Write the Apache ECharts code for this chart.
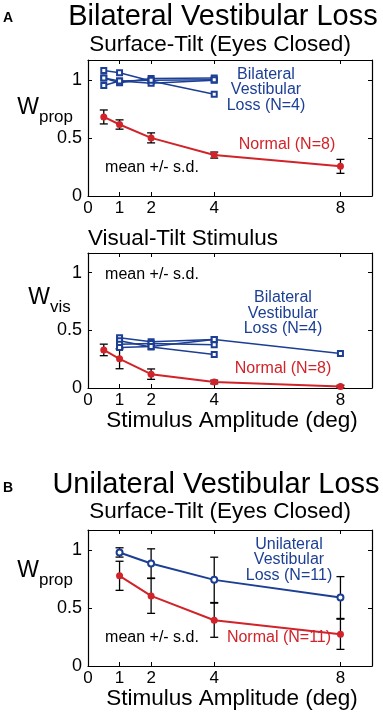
<!DOCTYPE html>
<html>
<head>
<meta charset="utf-8">
<script src="https://cdn.jsdelivr.net/npm/echarts@6/dist/echarts.min.js"></script>
<style>
  html, body { margin: 0; padding: 0; background: #fff; }
  #chart { width: 383px; height: 713px; }
</style>
</head>
<body>
<div id="chart"></div>
<script>
// axis ticks
const xTicks = [0, 1, 2, 4, 8];
const yTicks = [0, 0.5, 1];

// A: surface-tilt, eyes closed
const ampA = [0.5, 1, 2, 4, 8];
const normalPropA = [0.68, 0.615, 0.5, 0.352, 0.255];
const normalPropSdA = [0.06, 0.04, 0.043, 0.026, 0.06];
const bvlAmpA = [0.5, 1, 2, 4];
const bvlPropA = [
  [1.08, 1.06, 0.99, 0.875],
  [1.015, 0.975, 1.01, 1.015],
  [0.95, 0.99, 0.97, 0.995],
  [1.015, 0.99, 0.995, 1.0],
];

// A: visual-tilt stimulus
const normalVisA = [0.33, 0.253, 0.12, 0.052, 0.014];
const normalVisSdA = [0.05, 0.086, 0.045, 0.016, 0.01];
const bvlVisAmp = [
  [1, 2, 4, 8],
  [1, 2, 4],
  [1, 2, 4],
  [1, 2, 4],
];
const bvlVisA = [
  [0.435, 0.4, 0.42, 0.3],
  [0.41, 0.355, 0.29],
  [0.38, 0.385, 0.375],
  [0.35, 0.36, 0.42],
];

// B: surface-tilt, unilateral loss
const ampB = [1, 2, 4, 8];
const normalPropB = [0.776, 0.603, 0.394, 0.273];
const normalPropSdB = [0.125, 0.15, 0.147, 0.13];
const uvlPropB = [0.977, 0.882, 0.741, 0.589];
const uvlPropSdB = [0.04, 0.126, 0.195, 0.18];

const BLUE = "#1c3f94";
const RED = "#d1232a";
const FONT = "'Liberation Sans', Arial, Helvetica, sans-serif";

const grids = [
  { left: 88, top: 60, width: 284, height: 136 },
  { left: 88, top: 253, width: 284, height: 135 },
  { left: 88, top: 530, width: 284, height: 136 },
];

const xAxes = [];
const yAxes = [];
grids.forEach((g, i) => {
  const tick = { show: true, inside: true, length: 4, lineStyle: { color: "#000", width: 1 } };
  const line = { show: true, lineStyle: { color: "#000", width: 1.2 } };
  xAxes.push({
    gridIndex: i, type: "value", min: 0, max: 9, position: "bottom",
    axisLine: { ...line, onZero: false },
    axisTick: { ...tick, customValues: xTicks },
    axisLabel: { customValues: xTicks, color: "#000", fontSize: 17, fontFamily: FONT, margin: 4 },
    splitLine: { show: false },
  });
  xAxes.push({
    gridIndex: i, type: "value", min: 0, max: 9, position: "top",
    axisLine: { ...line, onZero: false },
    axisTick: { ...tick, customValues: xTicks },
    axisLabel: { show: false },
    splitLine: { show: false },
  });
  yAxes.push({
    gridIndex: i, type: "value", min: 0, max: 1.17, position: "left",
    axisLine: { ...line, onZero: false },
    axisTick: { ...tick, customValues: yTicks },
    axisLabel: {
      customValues: yTicks, color: "#000", fontSize: 18, fontFamily: FONT, margin: 6,
      formatter: (v) => String(v),
    },
    splitLine: { show: false },
  });
  yAxes.push({
    gridIndex: i, type: "value", min: 0, max: 1.17, position: "right",
    axisLine: { ...line, onZero: false },
    axisTick: { ...tick, customValues: yTicks },
    axisLabel: { show: false },
    splitLine: { show: false },
  });
});

/** vertical error bar with caps */
function errRender(params, api) {
  const x = api.value(0);
  const lo = api.coord([x, api.value(1)]);
  const hi = api.coord([x, api.value(2)]);
  const w = 4;
  const style = { stroke: "#000", lineWidth: 1.3 };
  return {
    type: "group",
    children: [
      { type: "line", shape: { x1: lo[0], y1: lo[1], x2: hi[0], y2: hi[1] }, style },
      { type: "line", shape: { x1: lo[0] - w, y1: lo[1], x2: lo[0] + w, y2: lo[1] }, style },
      { type: "line", shape: { x1: hi[0] - w, y1: hi[1], x2: hi[0] + w, y2: hi[1] }, style },
    ],
  };
}

const errSeries = (panel, xs, means, sds) => ({
  type: "custom",
  xAxisIndex: panel * 2,
  yAxisIndex: panel * 2,
  renderItem: errRender,
  encode: { x: 0, y: [1, 2] },
  data: xs.map((x, k) => [x, means[k] - sds[k], means[k] + sds[k]]),
  z: 2,
  silent: true,
});

const lineSeries = (panel, xs, ys, color, symbol, size, width) => ({
  type: "line",
  xAxisIndex: panel * 2,
  yAxisIndex: panel * 2,
  data: xs.map((x, k) => [x, ys[k]]),
  symbol,
  symbolSize: size,
  showAllSymbol: true,
  lineStyle: { color, width },
  itemStyle: { color, borderColor: color, borderWidth: symbol === "circle" ? 0 : 1.4 },
  z: 3,
  animation: false,
});

const series = [
  ...bvlPropA.map((ys) => lineSeries(0, bvlAmpA, ys, BLUE, "emptyRect", 5, 1.5)),
  errSeries(0, ampA, normalPropA, normalPropSdA),
  lineSeries(0, ampA, normalPropA, RED, "circle", 7, 2),

  ...bvlVisA.map((ys, k) => lineSeries(1, bvlVisAmp[k], ys, BLUE, "emptyRect", 5, 1.5)),
  errSeries(1, ampA, normalVisA, normalVisSdA),
  lineSeries(1, ampA, normalVisA, RED, "circle", 7, 2),

  errSeries(2, ampB, uvlPropB, uvlPropSdB),
  errSeries(2, ampB, normalPropB, normalPropSdB),
  lineSeries(2, ampB, normalPropB, RED, "circle", 7, 2),
  lineSeries(2, ampB, uvlPropB, BLUE, "emptyCircle", 6, 2),
];

const txt = (text, x, y, size, color, align, extra) => ({
  type: "text",
  x, y,
  style: {
    text, fill: color || "#000",
    font: `${extra || ""} ${size}px ${FONT}`,
    textAlign: align || "center",
    textVerticalAlign: "middle",
    lineHeight: 15.5,
  },
});

const graphic = [
  txt("A", 3, 18, 14, "#000", "left", "bold"),
  txt("Bilateral Vestibular Loss", 223, 17, 29),
  txt("Surface-Tilt (Eyes Closed)", 220, 45, 22.5),
  txt("W", 39, 108, 23, "#000", "right"),
  txt("prop", 39, 117, 17, "#000", "left"),
  txt("Bilateral\nVestibular\nLoss (N=4)", 266, 90, 16, BLUE),
  txt("Normal (N=8)", 287, 145, 16, RED),
  txt("mean +/- s.d.", 152, 168, 16),

  txt("Visual-Tilt Stimulus", 88, 239, 22.5, "#000", "left"),
  txt("W", 50, 298, 23, "#000", "right"),
  txt("vis", 50, 307, 17, "#000", "left"),
  txt("mean +/- s.d.", 152, 275, 16),
  txt("Bilateral\nVestibular\nLoss (N=4)", 283, 313.5, 16, BLUE),
  txt("Normal (N=8)", 283, 369, 16, RED),
  txt("Stimulus Amplitude (deg)", 232, 421, 22.5),

  txt("B", 3, 488, 14, "#000", "left", "bold"),
  txt("Unilateral Vestibular Loss", 216, 485, 29),
  txt("Surface-Tilt (Eyes Closed)", 220, 512, 22.5),
  txt("W", 39, 571, 23, "#000", "right"),
  txt("prop", 39, 580, 17, "#000", "left"),
  txt("Unilateral\nVestibular\nLoss (N=11)", 289, 560, 16, BLUE),
  txt("Normal (N=11)", 279, 638, 16, RED),
  txt("mean +/- s.d.", 152, 638, 16),
  txt("Stimulus Amplitude (deg)", 232, 699, 22.5),
];

const chart = echarts.init(document.getElementById("chart"), null, { renderer: "canvas" });
chart.setOption({
  animation: false,
  backgroundColor: "#fff",
  grid: grids,
  xAxis: xAxes,
  yAxis: yAxes,
  series,
  graphic,
});
</script>
</body>
</html>
